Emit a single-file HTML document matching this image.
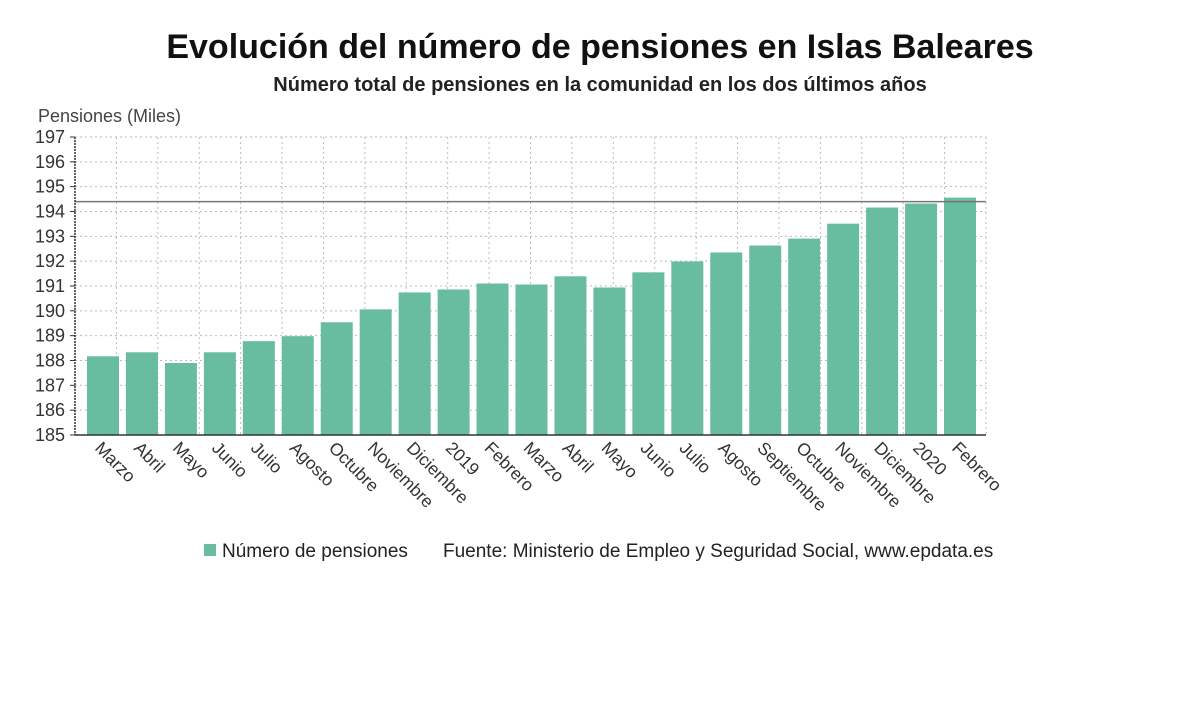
<!DOCTYPE html>
<html><head><meta charset="utf-8"><style>
body{margin:0;background:#fff;font-family:"Liberation Sans","DejaVu Sans",sans-serif;}
</style></head><body>
<svg width="1200" height="705" xmlns="http://www.w3.org/2000/svg">
<text x="600" y="58" text-anchor="middle" font-size="34" font-weight="bold" fill="#111">Evolución del número de pensiones en Islas Baleares</text>
<text x="600" y="91" text-anchor="middle" font-size="20" font-weight="bold" fill="#222">Número total de pensiones en la comunidad en los dos últimos años</text>
<text x="38" y="122" font-size="18" fill="#444">Pensiones (Miles)</text>
<g id="grid"></g><g id="bars"></g><g id="axes"></g>
<rect x="204" y="544" width="12" height="12" fill="#68bda0"/>
<text x="222" y="557" font-size="19" fill="#222">Número de pensiones</text>
<text x="443" y="557" font-size="19" fill="#222">Fuente: Ministerio de Empleo y Seguridad Social, www.epdata.es</text>
</svg>
<script>
const categories=["Marzo","Abril","Mayo","Junio","Julio","Agosto","Octubre","Noviembre","Diciembre","2019","Febrero","Marzo","Abril","Mayo","Junio","Julio","Agosto","Septiembre","Octubre","Noviembre","Diciembre","2020","Febrero"];
const values=[188.17,188.33,187.9,188.33,188.78,188.98,189.54,190.06,190.74,190.86,191.1,191.06,191.39,190.94,191.55,191.99,192.35,192.63,192.91,193.51,194.16,194.32,194.56];
const yTicks=[185,186,187,188,189,190,191,192,193,194,195,196,197];
const refValue=194.4;
const NS="http://www.w3.org/2000/svg";
const X0=75,X1=986,Y0=435,Y1=137,ymin=185,ymax=197;
const y=v=>Y0-(v-ymin)/(ymax-ymin)*(Y0-Y1);
const step=(960-103)/(categories.length-1);
const xc=i=>103+i*step;
function mk(t,a,p){const e=document.createElementNS(NS,t);for(const k in a)e.setAttribute(k,a[k]);p.appendChild(e);return e;}
const grid=document.getElementById('grid'),bars=document.getElementById('bars'),axes=document.getElementById('axes');
yTicks.forEach(t=>{
 const l=mk('line',{x1:X0,x2:X1,y1:y(t),y2:y(t),stroke:'#bbb','stroke-dasharray':'2,3'},grid);
 
 
 const tk=mk('line',{x1:X0-5,x2:X0,y1:y(t),y2:y(t),stroke:'#333'},axes);
 
 
 const tx=mk('text',{x:X0-10,y:y(t)+6,'text-anchor':'end','font-size':18,fill:'#333'},axes);
 tx.textContent=t;
 
 
});
for(let i=0;i<=22;i++){const gx=X0+i*(X1-X0)/22;
 const l=mk('line',{x1:gx,x2:gx,y1:Y1,y2:Y0,stroke:'#bbb','stroke-dasharray':'2,3'},grid);
 
 }
categories.forEach((c,i)=>{
 const b=mk('rect',{x:xc(i)-16,y:y(values[i]),width:32,height:Y0-y(values[i]),fill:'#68bda0'},bars);
 
 
 const t=mk('text',{x:0,y:0,'font-size':17.5,fill:'#333',transform:`translate(${xc(i)-9},${Y0+14}) rotate(45)`},axes);
 t.textContent=c;
 
 
});
const rl=mk('line',{x1:X0,x2:X1,y1:y(refValue),y2:y(refValue),stroke:'#777','stroke-width':1.5},axes);


const ya=mk('line',{x1:X0,x2:X0,y1:Y1,y2:Y0,stroke:'#333','stroke-width':1.5,'stroke-dasharray':'2,1'},axes);


const xa=mk('line',{x1:X0,x2:X1,y1:Y0,y2:Y0,stroke:'#333','stroke-width':1.5},axes);


</script>
</body></html>
